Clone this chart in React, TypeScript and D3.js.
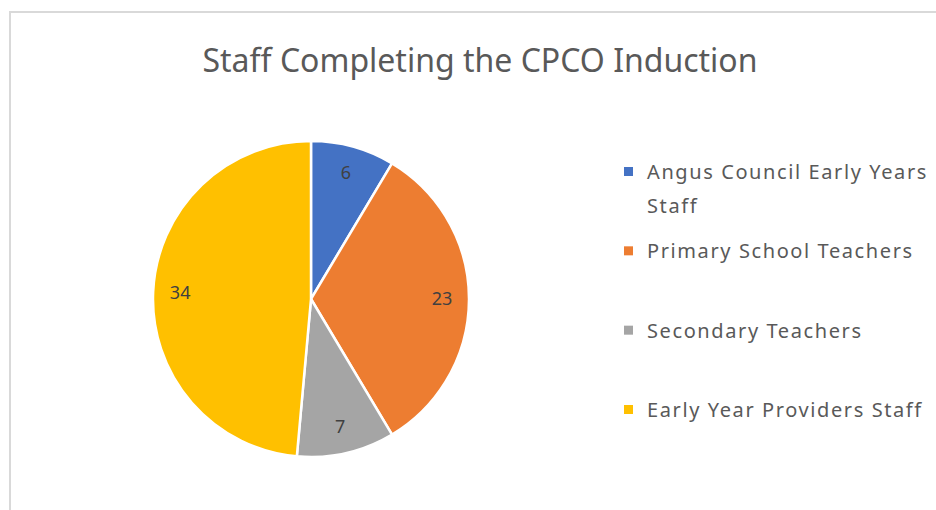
import React, { useRef, useEffect } from 'react';
import * as d3 from 'd3';

// chart data
const categories = [
  'Angus Council Early Years Staff',
  'Primary School Teachers',
  'Secondary Teachers',
  'Early Year Providers Staff',
];
const values = [6, 23, 7, 34];
const colors = ['#4472c4', '#ed7d31', '#a5a5a5', '#ffc000'];
const title = 'Staff Completing the CPCO Induction';

const W = 936;
const H = 510;
const FONT = '"Noto Sans", "Open Sans", sans-serif';

const PieChart = () => {
  const ref = useRef<SVGSVGElement>(null);

  useEffect(() => {
    const svg = d3.select(ref.current);
    svg.selectAll('*').remove();

    // chart area border
    svg.append('rect')
      .attr('x', 10).attr('y', 12)
      .attr('width', W + 20).attr('height', H)
      .attr('fill', 'white')
      .attr('stroke', '#d9d9d9')
      .attr('stroke-width', 2);

    svg.append('text')
      .attr('x', 480).attr('y', 72)
      .attr('text-anchor', 'middle')
      .attr('font-family', FONT)
      .attr('font-size', 32)
      .attr('fill', '#595959')
      .text(title);

    const data = categories.map((name, i) => ({ name, value: values[i], color: colors[i] }));
    const radius = 158;
    const g = svg.append('g').attr('transform', `translate(311, 299)`);

    const pie = d3.pie<any>().value(d => d.value).sort(null);
    const arc = d3.arc<any>().outerRadius(radius).innerRadius(0);
    const labelArc = d3.arc<any>().outerRadius(131).innerRadius(131);

    const arcs = g.selectAll('.arc')
      .data(pie(data))
      .enter().append('g')
      .attr('class', 'arc');

    arcs.append('path')
      .attr('d', arc)
      .attr('fill', d => d.data.color)
      .attr('stroke', 'white')
      .attr('stroke-width', 2.5);

    arcs.append('text')
      .attr('transform', d => {
        const [x, y] = labelArc.centroid(d);
        return `translate(${x}, ${y})`;
      })
      .attr('dy', '0.35em')
      .attr('text-anchor', 'middle')
      .attr('font-family', FONT)
      .attr('font-size', 18)
      .attr('fill', '#404040')
      .text(d => d.data.value);

    // legend
    const legendY = d3.scalePoint<string>().domain(categories).range([172, 410]);
    const maxW = 282;
    const items = svg.selectAll('.legend')
      .data(data)
      .enter().append('g')
      .attr('class', 'legend')
      .attr('transform', d => `translate(624, ${legendY(d.name)})`);

    items.append('rect')
      .attr('x', 0).attr('y', -5)
      .attr('width', 9).attr('height', 9)
      .attr('fill', d => d.color);

    items.each(function (d) {
      const t = d3.select(this).append('text')
        .attr('x', 23)
        .attr('font-family', FONT)
        .attr('font-size', 20)
        .attr('letter-spacing', 1.6)
        .attr('fill', '#595959');
      const words = d.name.split(' ');
      let line: string[] = [];
      let lineNo = 0;
      let ts = t.append('tspan').attr('x', 23).attr('y', 0).attr('dy', '0.35em');
      for (const w of words) {
        line.push(w);
        ts.text(line.join(' '));
        if ((ts.node() as SVGTextContentElement).getComputedTextLength() > maxW && line.length > 1) {
          line.pop();
          ts.text(line.join(' '));
          line = [w];
          lineNo++;
          ts = t.append('tspan').attr('x', 23).attr('y', lineNo * 34).attr('dy', '0.35em').text(w);
        }
      }
    });
  }, []);

  return <svg ref={ref} width={W} height={H} style={{ position: 'absolute', left: 0, top: 0 }}></svg>;
};

export default function App() {
  return (
    <div>
      <PieChart />
    </div>
  );
}
